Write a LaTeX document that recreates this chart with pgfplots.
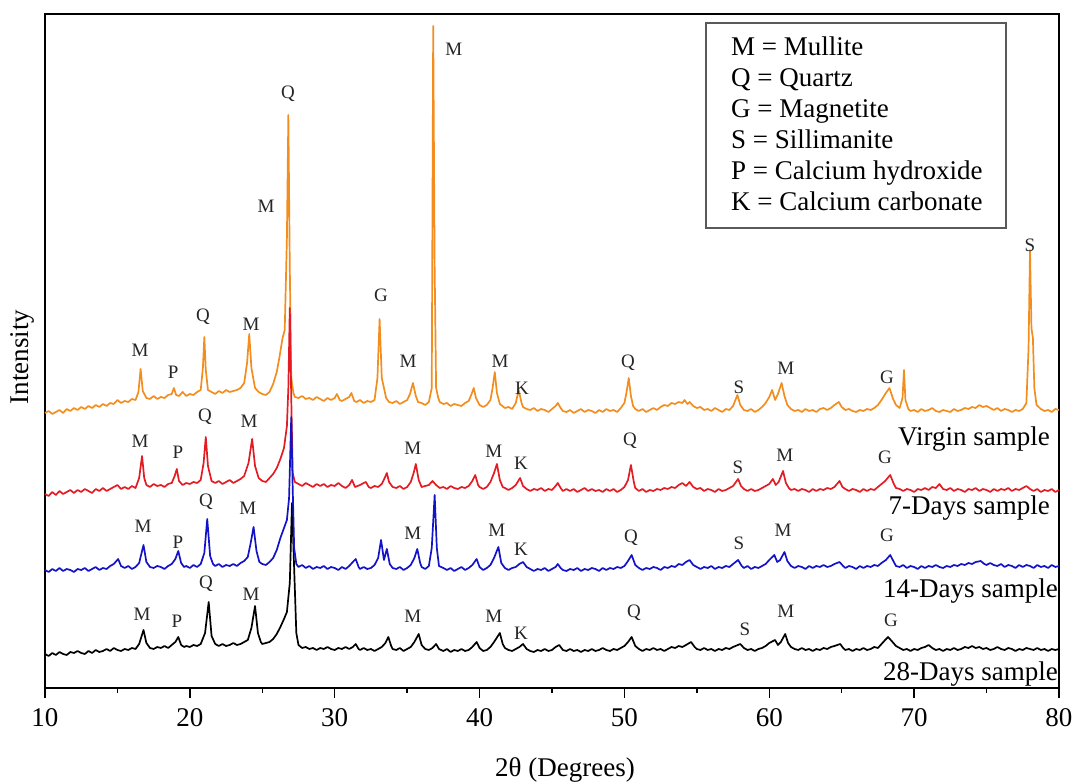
\documentclass[border=0pt]{standalone}
\usepackage{pgfplots}
\pgfplotsset{compat=1.18}
\usepackage{pgfplotstable}
\usepackage{fontspec}
\setmainfont{Liberation Serif}
\definecolor{cO}{RGB}{243,142,30}
\definecolor{cR}{RGB}{226,28,34}
\definecolor{cB}{RGB}{18,18,200}

\pgfplotstableread{
x y
10.00 275
10.25 277
10.50 274
10.75 276
11.00 278
11.25 275
11.50 279
11.75 277
12.00 280
12.25 278
12.50 281
12.75 279
13.00 282
13.25 280
13.50 283
13.75 281
14.00 284
14.25 282
14.50 285
14.75 284
15.00 288
15.25 285
15.50 287
15.75 286
16.00 289
16.25 288
16.45 296
16.60 319
16.75 297
17.00 290
17.25 289
17.50 292
17.75 289
18.00 291
18.25 290
18.50 293
18.75 294
18.90 300
19.05 293
19.25 292
19.50 296
19.75 292
20.00 294
20.25 293
20.50 296
20.75 298
20.90 320
21.00 351
21.10 318
21.25 298
21.50 296
21.75 294
22.00 297
22.25 295
22.50 298
22.75 296
23.00 297
23.25 298
23.50 300
23.75 305
23.95 325
24.10 354
24.25 320
24.50 300
24.75 296
25.00 294
25.25 293
25.50 296
25.75 304
26.00 316
26.20 332
26.40 350
26.55 358
26.70 450
26.80 573
26.90 420
27.00 310
27.15 295
27.25 291
27.50 290
27.75 292
28.00 289
28.25 290
28.50 288
28.75 291
29.00 289
29.25 287
29.50 290
29.75 288
30.00 290
30.15 294
30.35 288
30.50 287
30.75 289
31.00 291
31.15 295
31.35 287
31.50 286
31.75 288
32.00 285
32.25 287
32.50 286
32.75 288
32.95 310
33.10 369
33.25 310
33.40 300
33.55 290
33.75 286
34.00 285
34.25 287
34.50 284
34.75 286
35.00 288
35.20 294
35.40 305
35.60 292
35.75 286
36.00 285
36.25 283
36.50 286
36.70 300
36.80 662
36.90 420
37.00 300
37.15 290
37.25 286
37.50 284
37.75 285
38.00 282
38.25 284
38.50 283
38.75 282
39.00 285
39.25 287
39.45 294
39.60 300
39.75 290
40.00 283
40.25 281
40.50 283
40.75 288
40.90 300
41.05 316
41.20 295
41.40 284
41.75 280
42.00 281
42.25 279
42.50 285
42.70 298
42.90 285
43.00 281
43.25 279
43.50 278
43.75 280
44.00 277
44.25 279
44.50 278
44.75 276
45.00 279
45.25 282
45.40 285
45.60 280
45.75 277
46.00 276
46.25 278
46.50 275
46.75 277
47.00 279
47.25 276
47.50 278
47.75 277
48.00 275
48.25 278
48.50 276
48.75 279
49.00 277
49.25 278
49.50 276
49.75 280
50.00 285
50.15 296
50.30 310
50.45 292
50.60 282
50.75 279
51.00 277
51.25 279
51.50 276
51.75 278
52.00 280
52.25 278
52.50 281
52.75 283
53.00 282
53.25 285
53.50 284
53.75 286
54.00 285
54.15 288
54.35 284
54.50 286
54.75 282
55.00 280
55.25 281
55.50 278
55.75 279
56.00 277
56.25 280
56.50 278
56.75 276
57.00 279
57.25 278
57.50 282
57.80 293
58.00 283
58.25 278
58.50 277
58.75 279
59.00 276
59.25 278
59.50 281
59.75 285
60.00 291
60.20 298
60.40 288
60.60 294
60.85 305
61.05 292
61.25 283
61.50 279
61.75 277
62.00 278
62.25 276
62.50 279
62.75 277
63.00 278
63.25 276
63.50 279
63.75 280
64.00 278
64.25 280
64.50 283
64.80 286
65.00 281
65.25 278
65.50 279
65.75 277
66.00 276
66.25 278
66.50 277
66.75 279
67.00 278
67.25 280
67.50 283
67.75 288
68.05 295
68.30 300
68.55 289
68.75 283
69.00 280
69.20 290
69.30 318
69.40 288
69.60 279
69.75 277
70.00 278
70.25 276
70.50 279
70.75 277
71.00 278
71.25 280
71.50 277
71.75 276
72.00 278
72.25 277
72.50 276
72.75 279
73.00 277
73.25 278
73.50 280
73.75 279
74.00 281
74.25 280
74.50 283
74.75 281
75.00 282
75.25 280
75.50 278
75.75 280
76.00 277
76.25 279
76.50 278
76.75 276
77.00 278
77.25 277
77.50 279
77.75 285
77.90 340
78.00 438
78.10 360
78.20 350
78.30 300
78.45 283
78.75 279
79.00 277
79.25 278
79.50 276
79.75 279
80.00 278
}\virgin

\pgfplotstableread{
x y
10.00 194
10.25 192
10.50 196
10.75 193
11.00 197
11.25 194
11.50 196
11.75 198
12.00 195
12.25 198
12.50 196
12.75 199
13.00 197
13.25 195
13.50 199
13.75 197
14.00 200
14.25 197
14.50 199
14.75 201
15.00 203
15.25 199
15.50 201
15.75 199
16.00 202
16.25 200
16.50 210
16.70 232
16.85 210
17.00 203
17.25 201
17.50 204
17.75 202
18.00 203
18.25 201
18.50 204
18.75 205
18.95 212
19.10 219
19.25 207
19.50 203
19.75 205
20.00 204
20.25 206
20.50 205
20.75 208
20.95 225
21.10 251
21.25 222
21.50 207
21.75 205
22.00 207
22.25 204
22.50 206
22.75 208
23.00 205
23.25 207
23.50 209
23.75 212
24.05 225
24.30 249
24.50 222
24.75 210
25.00 207
25.25 206
25.50 210
25.75 214
26.00 220
26.25 229
26.50 240
26.70 262
26.80 300
26.90 380
27.00 290
27.10 215
27.25 206
27.50 204
27.75 202
28.00 205
28.25 203
28.50 201
28.75 204
29.00 202
29.25 204
29.50 201
29.75 203
30.00 202
30.25 205
30.50 202
30.75 200
31.00 203
31.20 208
31.40 201
31.75 203
32.00 205
32.15 206
32.35 201
32.50 200
32.75 202
33.00 201
33.25 204
33.45 210
33.60 215
33.75 206
34.00 201
34.25 200
34.50 202
34.75 199
35.00 201
35.25 206
35.45 215
35.60 224
35.80 208
36.00 201
36.25 202
36.50 203
36.75 207
37.00 203
37.25 200
37.50 201
37.75 199
38.00 202
38.25 200
38.50 199
38.75 201
39.00 200
39.25 202
39.50 207
39.70 213
39.90 203
40.00 201
40.25 199
40.50 201
40.75 206
41.00 215
41.20 224
41.40 208
41.60 201
41.75 200
42.00 198
42.25 200
42.50 203
42.80 210
43.00 202
43.25 199
43.50 197
43.75 199
44.00 198
44.25 200
44.50 197
44.75 199
45.00 198
45.25 202
45.40 205
45.60 200
45.75 197
46.00 199
46.25 197
46.50 199
46.75 196
47.00 198
47.25 200
47.50 197
47.75 199
48.00 197
48.25 198
48.50 196
48.75 199
49.00 197
49.25 199
49.50 196
49.75 198
50.00 201
50.25 208
50.45 223
50.65 206
50.75 200
51.00 197
51.25 199
51.50 196
51.75 198
52.00 197
52.25 199
52.50 198
52.75 200
53.00 199
53.25 201
53.50 200
53.75 203
54.00 205
54.25 202
54.50 206
54.75 201
55.00 199
55.25 200
55.50 197
55.75 199
56.00 198
56.25 196
56.50 199
56.75 197
57.00 198
57.25 200
57.50 202
57.85 209
58.05 202
58.25 199
58.50 197
58.75 199
59.00 197
59.25 198
59.50 200
59.75 202
60.00 204
60.25 209
60.45 203
60.65 206
60.95 217
61.15 205
61.35 200
61.50 198
61.75 199
62.00 197
62.25 199
62.50 198
62.75 196
63.00 199
63.25 197
63.50 199
63.75 198
64.00 200
64.25 199
64.50 201
64.85 207
65.05 201
65.25 199
65.50 197
65.75 199
66.00 198
66.25 196
66.50 199
66.75 197
67.00 199
67.25 198
67.50 201
67.75 204
68.00 207
68.35 213
68.60 204
68.75 200
69.00 199
69.25 197
69.50 199
69.75 198
70.00 196
70.25 199
70.50 198
70.75 200
71.00 198
71.25 201
71.50 200
71.75 204
72.00 199
72.25 198
72.50 200
72.75 197
73.00 199
73.25 198
73.50 196
73.75 199
74.00 198
74.25 200
74.50 197
74.75 199
75.00 198
75.25 196
75.50 199
75.75 197
76.00 199
76.25 198
76.50 200
76.75 197
77.00 199
77.25 198
77.50 200
77.75 202
78.00 199
78.25 197
78.50 199
78.75 196
79.00 198
79.25 197
79.50 199
79.75 196
80.00 198
}\seven

\pgfplotstableread{
x y
10.00 118
10.25 116
10.50 119
10.75 117
11.00 120
11.25 117
11.50 119
11.75 118
12.00 116
12.25 119
12.50 118
12.75 120
13.00 117
13.25 119
13.50 121
13.75 118
14.00 120
14.25 119
14.50 122
14.75 124
15.05 129
15.25 122
15.50 120
15.75 122
16.00 119
16.25 121
16.50 125
16.80 143
17.00 126
17.25 121
17.50 120
17.75 122
18.00 121
18.25 119
18.50 122
18.75 124
19.00 129
19.20 137
19.40 125
19.60 121
19.75 122
20.00 120
20.25 123
20.50 121
20.75 124
21.00 135
21.20 169
21.40 132
21.60 124
21.75 122
22.00 124
22.25 121
22.50 123
22.75 122
23.00 124
23.25 122
23.50 125
23.75 127
24.00 131
24.20 145
24.40 161
24.60 137
24.80 126
25.00 124
25.25 123
25.50 126
25.75 130
26.00 138
26.25 150
26.50 160
26.70 168
26.85 190
27.00 271
27.10 200
27.20 140
27.35 124
27.50 121
27.75 123
28.00 120
28.25 122
28.50 119
28.75 121
29.00 120
29.25 122
29.50 119
29.75 121
30.00 120
30.25 118
30.50 121
30.75 119
31.00 122
31.25 126
31.45 129
31.65 121
31.75 119
32.00 121
32.25 119
32.50 120
32.75 123
33.00 130
33.20 148
33.40 128
33.60 139
33.80 124
34.00 120
34.25 119
34.50 121
34.75 118
35.00 120
35.25 123
35.50 130
35.70 139
35.90 125
36.00 121
36.25 119
36.50 122
36.70 140
36.90 193
37.05 140
37.20 122
37.50 120
37.75 118
38.00 120
38.25 117
38.50 119
38.75 121
39.00 118
39.25 120
39.50 123
39.80 129
40.00 121
40.25 118
40.50 120
40.75 123
41.00 130
41.30 141
41.50 125
41.75 120
42.00 118
42.25 120
42.50 121
42.75 124
43.00 126
43.25 121
43.50 119
43.75 117
44.00 119
44.25 118
44.50 120
44.75 117
45.00 119
45.25 121
45.40 124
45.60 120
45.75 118
46.00 117
46.25 119
46.50 118
46.75 120
47.00 117
47.25 119
47.50 118
47.75 120
48.00 119
48.25 117
48.50 120
48.75 118
49.00 120
49.25 119
49.50 121
49.75 120
50.00 122
50.25 127
50.50 133
50.75 123
51.00 120
51.25 118
51.50 120
51.75 119
52.00 121
52.25 120
52.50 118
52.75 121
53.00 120
53.25 122
53.50 121
53.75 124
54.00 123
54.25 126
54.50 128
54.75 123
55.00 121
55.25 119
55.50 121
55.75 120
56.00 122
56.25 119
56.50 121
56.75 120
57.00 122
57.25 121
57.50 124
57.85 128
58.10 122
58.25 120
58.50 122
58.75 119
59.00 121
59.25 120
59.50 122
59.75 124
60.00 128
60.35 133
60.55 126
60.75 128
61.05 136
61.25 127
61.50 122
61.75 120
62.00 122
62.25 121
62.50 119
62.75 122
63.00 120
63.25 122
63.50 121
63.75 123
64.00 121
64.25 122
64.50 124
64.85 126
65.10 122
65.25 120
65.50 122
65.75 121
66.00 119
66.25 122
66.50 120
66.75 122
67.00 121
67.25 123
67.50 122
67.75 125
68.05 128
68.35 133
68.60 126
68.75 122
69.00 121
69.25 123
69.50 120
69.75 122
70.00 121
70.25 119
70.50 122
70.75 120
71.00 122
71.25 121
71.50 123
71.75 121
72.00 120
72.25 122
72.50 121
72.75 123
73.00 122
73.25 124
73.50 123
73.75 125
74.00 124
74.25 126
74.60 127
74.85 124
75.00 123
75.25 125
75.50 123
75.75 122
76.00 124
76.25 121
76.50 123
76.75 122
77.00 120
77.25 123
77.50 121
77.75 123
78.00 122
78.25 120
78.50 123
78.75 121
79.00 122
79.25 120
79.50 123
79.75 121
80.00 122
}\fourteen

\pgfplotstableread{
x y
10.00 34
10.25 32
10.50 35
10.75 33
11.00 36
11.25 34
11.50 33
11.75 36
12.00 35
12.25 37
12.50 35
12.75 34
13.00 37
13.25 35
13.50 38
13.75 36
14.00 37
14.25 39
14.50 37
14.75 40
15.00 38
15.25 37
15.50 39
15.75 38
16.00 40
16.25 39
16.50 44
16.80 58
17.00 45
17.25 40
17.50 39
17.75 41
18.00 40
18.25 42
18.50 40
18.75 43
19.00 46
19.20 51
19.40 43
19.60 41
19.75 42
20.00 41
20.25 43
20.50 42
20.75 44
21.05 55
21.30 86
21.50 52
21.75 44
22.00 42
22.25 44
22.50 42
22.75 43
23.00 45
23.25 43
23.50 44
23.75 46
24.00 48
24.25 60
24.50 82
24.70 55
24.90 46
25.00 44
25.25 45
25.50 46
25.75 49
26.00 54
26.25 61
26.50 69
26.70 76
26.90 105
27.05 185
27.20 120
27.35 55
27.50 43
27.75 40
28.00 41
28.25 39
28.50 40
28.75 38
29.00 40
29.25 39
29.50 41
29.75 39
30.00 38
30.25 40
30.50 39
30.75 41
31.00 39
31.25 41
31.45 44
31.65 39
31.75 38
32.00 40
32.25 38
32.50 39
32.75 37
33.00 39
33.25 41
33.50 45
33.70 51
33.90 42
34.00 39
34.25 38
34.50 40
34.75 37
35.00 39
35.25 41
35.50 46
35.80 54
36.00 43
36.25 39
36.50 38
36.75 40
37.00 44
37.20 39
37.50 37
37.75 39
38.00 36
38.25 38
38.50 37
38.75 39
39.00 37
39.25 38
39.50 41
39.80 46
40.00 40
40.25 37
40.50 38
40.75 41
41.00 46
41.40 55
41.60 44
41.75 40
42.00 38
42.25 37
42.50 39
42.75 41
43.00 44
43.25 39
43.50 37
43.75 36
44.00 38
44.25 37
44.50 39
44.75 37
45.00 38
45.25 41
45.50 43
45.75 38
46.00 37
46.25 39
46.50 37
46.75 38
47.00 36
47.25 38
47.50 37
47.75 39
48.00 37
48.25 38
48.50 40
48.75 38
49.00 37
49.25 39
49.50 38
49.75 40
50.00 42
50.25 46
50.50 51
50.75 42
51.00 39
51.25 37
51.50 39
51.75 38
52.00 40
52.25 38
52.50 39
52.75 37
53.00 39
53.25 41
53.50 40
53.75 42
54.00 41
54.25 43
54.60 46
54.85 41
55.00 39
55.25 38
55.50 40
55.75 38
56.00 39
56.25 37
56.50 39
56.75 38
57.00 40
57.25 39
57.50 41
58.00 44
58.25 40
58.50 38
58.75 39
59.00 37
59.25 39
59.50 40
59.75 42
60.00 45
60.40 48
60.60 43
60.80 46
61.10 54
61.30 45
61.50 41
61.75 39
62.00 38
62.25 40
62.50 38
62.75 39
63.00 37
63.25 39
63.50 38
63.75 40
64.00 39
64.25 41
64.50 42
64.90 44
65.10 40
65.25 38
65.50 39
65.75 37
66.00 39
66.25 38
66.50 40
66.75 38
67.00 39
67.25 41
67.50 40
67.75 44
68.00 48
68.20 51
68.45 47
68.75 42
69.00 40
69.25 38
69.50 39
69.75 37
70.00 39
70.25 38
70.50 40
70.75 41
71.00 43
71.25 40
71.50 38
71.75 39
72.00 37
72.25 39
72.50 38
72.75 40
73.00 38
73.25 39
73.50 41
73.75 40
74.00 42
74.25 40
74.50 41
74.75 39
75.00 40
75.25 38
75.50 39
75.75 41
76.00 39
76.25 38
76.50 40
76.75 39
77.00 37
77.25 39
77.50 38
77.75 40
78.00 39
78.25 38
78.50 40
78.75 38
79.00 39
79.25 37
79.50 39
79.75 38
80.00 39
}\twentyeight

\tikzset{pk/.style={font=\fontsize{19}{20}\selectfont, text=black!85, inner sep=0pt}}

\begin{document}
\begin{tikzpicture}
\begin{axis}[
  scale only axis, width=1014pt, height=674pt,
  xmin=10, xmax=80, ymin=0, ymax=674,
  xtick={10,20,...,80}, minor x tick num=1,
  xtick pos=bottom, ytick=\empty,
  tick align=outside,
  major tick length=10pt, minor tick length=5pt,
  every tick/.style={black, line width=1.5pt},
  axis line style={line width=1.6pt},
  ticklabel style={font=\fontsize{27}{30}\selectfont},
  xticklabel style={yshift=-7pt},
  /pgf/number format/assume math mode=true,
  clip=false,
  every axis plot/.append style={line width=1.7pt, line join=round},
]
\addplot[cO] table {\virgin};
\addplot[cR] table {\seven};
\addplot[black] table {\twentyeight};
\addplot[cB] table {\fourteen};

% Virgin labels
\node[pk] at (axis cs:16.56,338) {M};
\node[pk] at (axis cs:18.84,316) {P};
\node[pk] at (axis cs:20.91,371) {Q};
\node[pk] at (axis cs:24.22,364) {M};
\node[pk] at (axis cs:25.26,482) {M};
\node[pk] at (axis cs:26.78,594) {Q};
\node[pk] at (axis cs:33.19,393) {G};
\node[pk] at (axis cs:35.06,327) {M};
\node[pk] at (axis cs:38.23,639) {M};
\node[pk] at (axis cs:41.41,327) {M};
\node[pk] at (axis cs:42.93,300) {K};
\node[pk] at (axis cs:50.25,325) {Q};
\node[pk] at (axis cs:57.91,301) {S};
\node[pk] at (axis cs:61.15,320) {M};
\node[pk] at (axis cs:68.12,311) {G};
\node[pk] at (axis cs:78.00,443) {S};
% 7-days labels
\node[pk] at (axis cs:16.56,247) {M};
\node[pk] at (axis cs:19.18,236) {P};
\node[pk] at (axis cs:21.05,271) {Q};
\node[pk] at (axis cs:24.08,267) {M};
\node[pk] at (axis cs:35.40,240) {M};
\node[pk] at (axis cs:40.99,237) {M};
\node[pk] at (axis cs:42.86,225) {K};
\node[pk] at (axis cs:50.38,247) {Q};
\node[pk] at (axis cs:57.84,221) {S};
\node[pk] at (axis cs:61.08,233) {M};
\node[pk] at (axis cs:67.99,231) {G};
% 14-days labels
\node[pk] at (axis cs:16.77,162) {M};
\node[pk] at (axis cs:19.18,146) {P};
\node[pk] at (axis cs:21.11,186) {Q};
\node[pk] at (axis cs:24.01,180) {M};
\node[pk] at (axis cs:35.40,155) {M};
\node[pk] at (axis cs:41.20,158) {M};
\node[pk] at (axis cs:42.86,139) {K};
\node[pk] at (axis cs:50.45,150) {Q};
\node[pk] at (axis cs:57.91,145) {S};
\node[pk] at (axis cs:60.95,158) {M};
\node[pk] at (axis cs:68.12,153) {G};
% 28-days labels
\node[pk] at (axis cs:16.70,74) {M};
\node[pk] at (axis cs:19.11,67) {P};
\node[pk] at (axis cs:21.11,104) {Q};
\node[pk] at (axis cs:24.22,94) {M};
\node[pk] at (axis cs:35.40,72) {M};
\node[pk] at (axis cs:40.99,72) {M};
\node[pk] at (axis cs:42.86,55) {K};
\node[pk] at (axis cs:50.66,75) {Q};
\node[pk] at (axis cs:58.32,59) {S};
\node[pk] at (axis cs:61.15,77) {M};
\node[pk] at (axis cs:68.40,68) {G};
\end{axis}

% sample names
\begin{scope}[every node/.style={font=\fontsize{27}{30}\selectfont, inner sep=0pt}]
\node[anchor=base east] at (1005pt,242pt) {Virgin sample};
\node[anchor=base east] at (1005pt,173pt) {7-Days sample};
\node[anchor=base east] at (1013pt,90pt) {14-Days sample};
\node[anchor=base east] at (1013pt,7pt) {28-Days sample};
% legend box
\draw[black!65, line width=1.3pt] (661pt,460pt) rectangle (961pt,665pt);
\node[anchor=base west] at (686pt,632pt) {M = Mullite};
\node[anchor=base west] at (686pt,601pt) {Q = Quartz};
\node[anchor=base west] at (686pt,570pt) {G = Magnetite};
\node[anchor=base west] at (686pt,539pt) {S = Sillimanite};
\node[anchor=base west] at (686pt,508pt) {P = Calcium hydroxide};
\node[anchor=base west] at (686pt,477pt) {K = Calcium carbonate};
% axis labels
\node at (520pt,-82pt) {2θ (Degrees)};
\node[rotate=90] at (-23pt,331pt) {Intensity};
\end{scope}
\pgfresetboundingbox
\path (-45pt,-96pt) rectangle (1029pt,688pt);
\end{tikzpicture}
\end{document}
